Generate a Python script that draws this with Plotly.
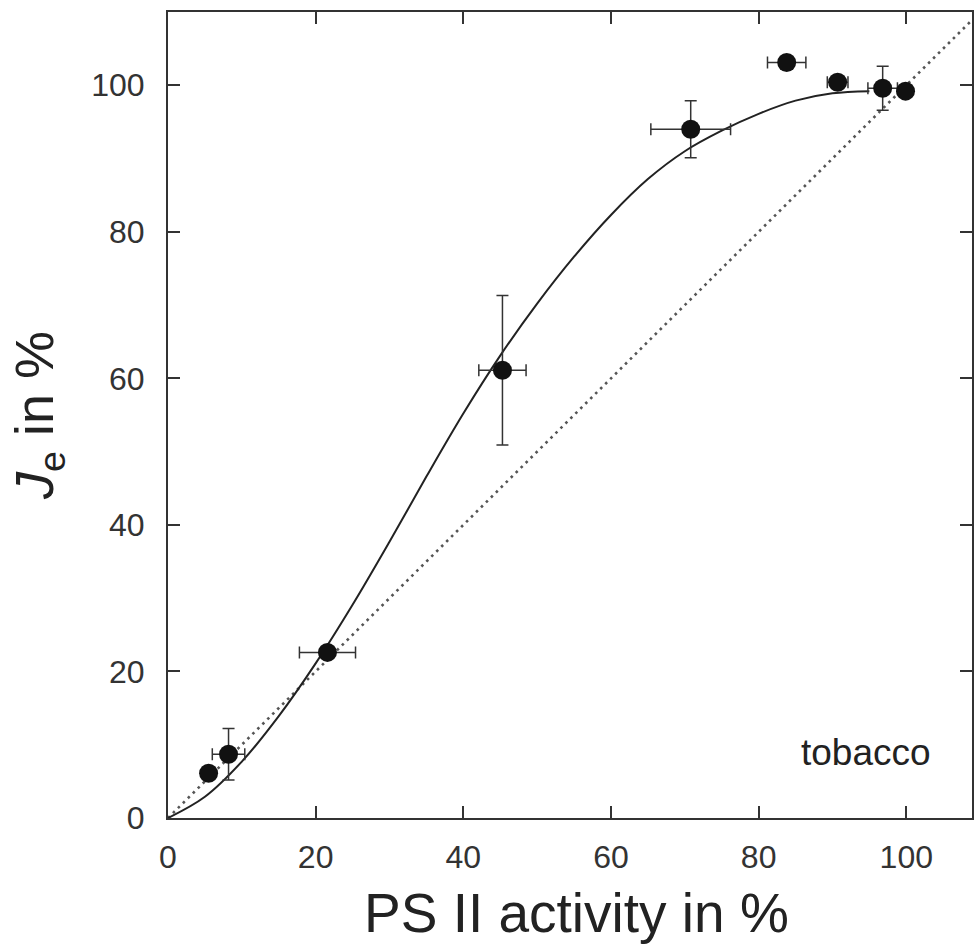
import plotly.graph_objects as go

# measured data points
ps2_activity = [5.5, 8.2, 21.6, 45.3, 70.8, 83.8, 90.7, 96.8, 99.9]
je_values = [6.1, 8.7, 22.6, 61.1, 94.0, 103.1, 100.4, 99.6, 99.2]
x_err = [0, 2.2, 3.8, 3.2, 5.4, 2.6, 1.4, 2.0, 0]
y_err = [0, 3.5, 0, 10.2, 3.9, 0, 0, 3.0, 0]

# fitted curve
fit_x = [0, 5, 10, 15, 20, 25, 30, 35, 40, 45, 50, 55, 60, 65, 70, 75, 80, 85, 90, 95]
fit_y = [0, 2.9, 7.7, 13.9, 21.1, 29.1, 37.7, 46.6, 55.2, 63.1, 70.2, 76.6, 82.3, 87.2, 91.0, 93.8, 96.1, 97.9, 98.9, 99.2]

# identity line
diag_x = [0, 110]
diag_y = [0, 110]

x_ticks = [0, 20, 40, 60, 80, 100]
y_ticks = [0, 20, 40, 60, 80, 100]

fig = go.Figure()
fig.add_trace(go.Scatter(x=diag_x, y=diag_y, mode="lines",
                         line=dict(color="#555555", width=2.6, dash="2.6px,4.4px"),
                         showlegend=False, hoverinfo="skip"))
fig.add_trace(go.Scatter(x=fit_x, y=fit_y, mode="lines",
                         line=dict(color="#222222", width=2, shape="spline", smoothing=1.0),
                         showlegend=False))
fig.add_trace(go.Scatter(
    x=ps2_activity, y=je_values, mode="markers",
    marker=dict(color="#111111", size=19, symbol="circle"),
    error_x=dict(type="data", array=x_err, visible=True, color="#333333", thickness=1.5, width=6),
    error_y=dict(type="data", array=y_err, visible=True, color="#333333", thickness=1.5, width=6),
    showlegend=False))

fig.add_annotation(x=103.6, y=9, xref="x", yref="y", text="tobacco", showarrow=False,
                   xanchor="right", yanchor="middle",
                   font=dict(family="Liberation Sans, Arial", size=37, color="#222222"))

# x-axis title (placed as annotation to centre it on the full, partly cropped frame)
fig.add_annotation(x=0.5087, y=-0.118, xref="paper", yref="paper", text="PS II activity in %",
                   showarrow=False, xanchor="center", yanchor="middle",
                   font=dict(family="Liberation Sans, Arial", size=55, color="#222222"))

axis_common = dict(showgrid=False, zeroline=False, showline=True, linecolor="#333333", linewidth=2,
                   mirror="ticks", ticks="inside", ticklen=12, tickwidth=2, tickcolor="#333333",
                   tickfont=dict(family="Liberation Sans, Arial", size=32, color="#333333"))

fig.update_xaxes(range=[0, 108.9], tickvals=x_ticks, ticklabelstandoff=10, **axis_common)
fig.update_yaxes(range=[0, 110], tickvals=y_ticks, ticklabelstandoff=15, **axis_common,
                 title=dict(text="<i>J</i><sub>e</sub> in %", standoff=20,
                            font=dict(family="Liberation Sans, Arial", size=54, color="#222222")))

fig.update_layout(width=974, height=945, margin=dict(l=168, r=0, t=12, b=127),
                  plot_bgcolor="white", paper_bgcolor="white")

fig.write_html("out.html")
